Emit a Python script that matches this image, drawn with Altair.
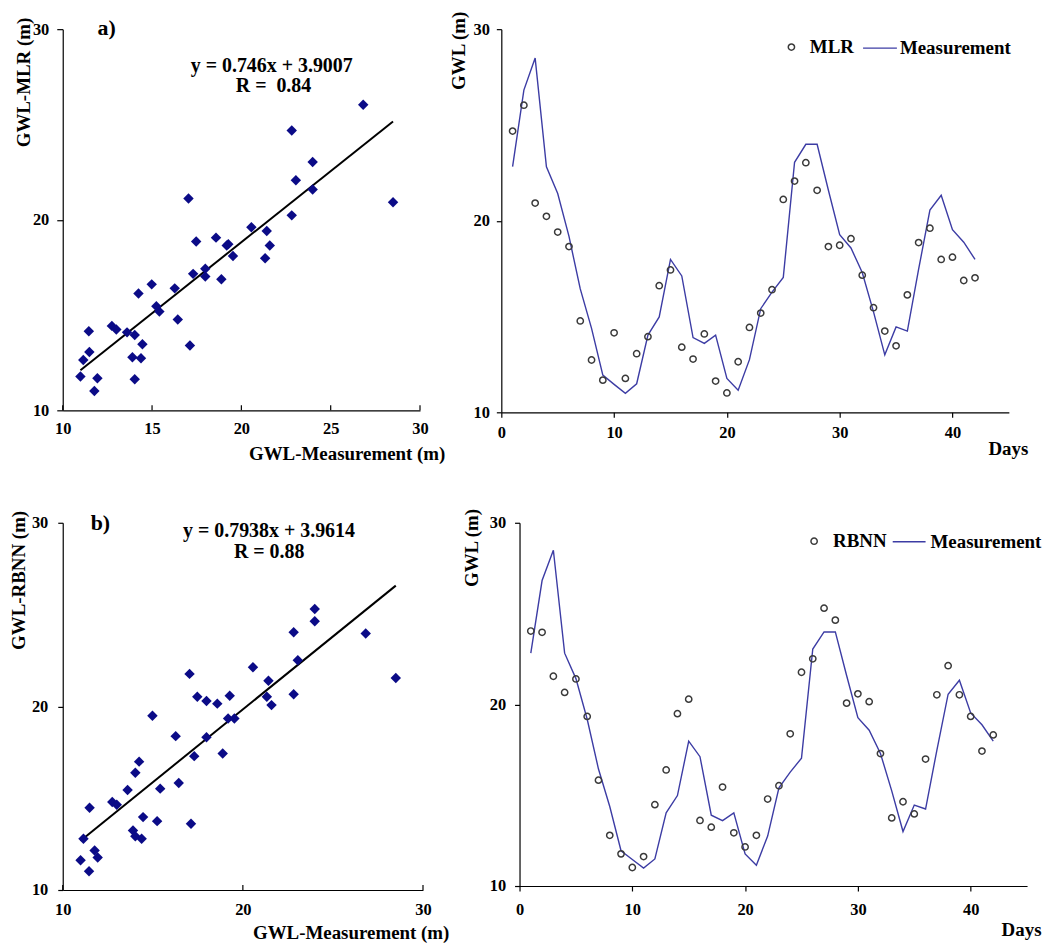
import altair as alt
import pandas as pd

# ---------------- data ----------------
days = list(range(1, 43))
measurement = [22.82, 26.82, 28.49, 22.82, 21.42, 19.18, 16.44, 14.38, 11.94, 11.46,
               10.99, 11.49, 14.03, 14.98, 17.98, 17.12, 13.90, 13.60, 14.03, 11.77,
               11.15, 12.75, 15.41, 16.27, 17.04, 23.05, 23.99, 23.99, 21.59, 19.27,
               18.58, 17.30, 15.24, 13.00, 14.46, 14.24, 17.47, 20.56, 21.33, 19.53,
               18.88, 17.98]
mlr = [24.68, 26.03, 20.92, 20.23, 19.41, 18.65, 14.77, 12.73, 11.68, 14.15,
       11.77, 13.06, 13.95, 16.61, 17.43, 13.40, 12.78, 14.09, 11.63, 11.01,
       12.64, 14.43, 15.18, 16.40, 21.11, 22.07, 23.03, 21.59, 18.65, 18.72,
       19.06, 17.16, 15.46, 14.24, 13.47, 16.13, 18.86, 19.61, 17.98, 18.10,
       16.88, 17.02]
rbnn = [24.04, 23.97, 21.55, 20.66, 21.40, 19.34, 15.83, 12.79, 11.77, 11.02,
        11.62, 14.48, 16.39, 19.49, 20.29, 13.61, 13.24, 15.45, 12.93, 12.15,
        12.79, 14.79, 15.52, 18.38, 21.77, 22.51, 25.30, 24.64, 20.07, 20.58,
        20.15, 17.29, 13.75, 14.64, 13.97, 16.99, 20.53, 22.13, 20.53, 19.34,
        17.43, 18.32]

mlr_fit = (0.746, 3.9007)
rbnn_fit = (0.7938, 3.9614)

gwl_ticks = [10, 20, 30]
meas_ticks_a = [10, 15, 20, 25, 30]
meas_ticks_b = [10, 20, 30]
day_ticks = [0, 10, 20, 30, 40]

FONT = "Liberation Serif"
NAVY = "#0b0b87"
LINE_COLOR = "#3c3ca4"
CIRCLE_COLOR = "#3a3a3a"

df = pd.DataFrame({"day": days, "meas": measurement, "mlr": mlr, "rbnn": rbnn})


def scatter(model, fit, xticks, w, h, ytitle, yt_x, yt_y, ylab_pad, ytick,
            xt_x, xt_y, xlab_pad, label, lab_pos, eq, r_text, eq_pos, r_pos):
    x_enc = alt.X("meas:Q", scale=alt.Scale(domain=[10, 30], nice=False, zero=False),
                  axis=alt.Axis(values=xticks, title="GWL-Measurement (m)",
                                titleX=xt_x, titleY=xt_y, titleAlign="right",
                                titleBaseline="alphabetic", tickSize=0,
                                labelPadding=xlab_pad))
    y_enc = alt.Y(f"{model}:Q", scale=alt.Scale(domain=[10, 30], nice=False, zero=False),
                  axis=alt.Axis(values=gwl_ticks, title=ytitle, titleX=yt_x, titleY=yt_y,
                                titleAngle=270, titleAlign="right",
                                titleBaseline="alphabetic", tickSize=ytick,
                                labelPadding=ylab_pad))
    pts = alt.Chart(df).mark_point(shape="diamond", filled=True, size=110,
                                   color=NAVY, opacity=1).encode(x=x_enc, y=y_enc)
    slope, icpt = fit
    lo, hi = min(measurement), max(measurement)
    fit_df = pd.DataFrame({"meas": [lo, hi], model: [slope * lo + icpt, slope * hi + icpt]})
    fit_line = alt.Chart(fit_df).mark_line(color="black", strokeWidth=2).encode(x=x_enc, y=y_enc)
    tick_df = pd.DataFrame({"meas": xticks})
    inner_ticks = alt.Chart(tick_df).mark_rule(color="black", strokeWidth=1.2).encode(
        x=x_enc, y=alt.value(h), y2=alt.value(h - 5))
    lab_df = pd.DataFrame({"meas": [lab_pos[0]], model: [lab_pos[1]], "t": [label]})
    lab = alt.Chart(lab_df).mark_text(align="left", baseline="alphabetic", font=FONT,
                                      fontWeight="bold", fontSize=22, color="black").encode(
        x=x_enc, y=y_enc, text="t:N")
    eq_df = pd.DataFrame({"meas": [eq_pos[0], r_pos[0]], model: [eq_pos[1], r_pos[1]],
                          "t": [eq, r_text]})
    eqs = alt.Chart(eq_df).mark_text(align="center", baseline="alphabetic", font=FONT,
                                     fontWeight="bold", fontSize=20, color="black").encode(
        x=x_enc, y=y_enc, text="t:N")
    return alt.layer(fit_line, pts, inner_ticks, lab, eqs).properties(width=w, height=h)


def series(model, name, w, h, yt_x, yt_y, ylab_pad, xt_x, xt_y, xlab_pad,
           shape_x, shape_y, shape_off, line_x, line_y, line_off, line_len):
    x_enc = alt.X("day:Q", scale=alt.Scale(domain=[0, 45], nice=False, zero=False),
                  axis=alt.Axis(values=day_ticks, title="Days", titleX=xt_x, titleY=xt_y,
                                titleAlign="right", titleBaseline="alphabetic",
                                tickSize=5, labelPadding=xlab_pad))
    y_axis = alt.Axis(values=gwl_ticks, title="GWL (m)", titleX=yt_x, titleY=yt_y,
                      titleAngle=270, titleAlign="right", titleBaseline="alphabetic",
                      tickSize=5, labelPadding=ylab_pad)
    y_scale = alt.Scale(domain=[10, 30], nice=False, zero=False)
    base = alt.Chart(df)
    line = base.transform_calculate(series_m="'Measurement'").mark_line(
        strokeWidth=1.4).encode(
        x=x_enc,
        y=alt.Y("meas:Q", scale=y_scale, axis=y_axis),
        color=alt.Color("series_m:N",
                        scale=alt.Scale(domain=["Measurement"], range=[LINE_COLOR]),
                        legend=alt.Legend(title=None, orient="none", legendX=line_x,
                                          legendY=line_y, symbolType="stroke",
                                          symbolSize=line_len * line_len,
                                          symbolStrokeWidth=1.4, labelOffset=line_off,
                                          padding=0, labelFont=FONT, labelFontSize=19,
                                          labelFontWeight="bold", labelColor="black")))
    pts = base.transform_calculate(series_p=f"'{name}'").mark_point(
        filled=False, size=40, strokeWidth=1.5, color=CIRCLE_COLOR, opacity=1).encode(
        x=x_enc,
        y=alt.Y(f"{model}:Q", scale=y_scale, axis=y_axis),
        shape=alt.Shape("series_p:N",
                        scale=alt.Scale(domain=[name], range=["circle"]),
                        legend=alt.Legend(title=None, orient="none", legendX=shape_x,
                                          legendY=shape_y, symbolSize=40,
                                          symbolStrokeColor=CIRCLE_COLOR,
                                          symbolFillColor="transparent",
                                          symbolStrokeWidth=1.5, labelOffset=shape_off,
                                          padding=0, labelFont=FONT, labelFontSize=19,
                                          labelFontWeight="bold", labelColor="black")))
    return alt.layer(line, pts).properties(width=w, height=h).resolve_legend(
        color="independent", shape="independent")


A = scatter("mlr", mlr_fit, meas_ticks_a, 359, 383, "GWL-MLR (m)", -33, -12, 8, 6,
            384, 49.3, 10, "a)", (11.95, 29.67), "y = 0.746x + 3.9007", "R =\u00a0 0.84",
            (21.7, 27.75), (21.8, 26.70))
B = series("mlr", "MLR", 510, 385, -37, -18, 7, 529, 42.6, 7,
           282, 8.5, 9, 362.5, 1, 2, 34)
C = scatter("rbnn", rbnn_fit, meas_ticks_b, 362, 369, "GWL-RBNN (m)", -38, -12.5, 10, 5,
            388, 49, 12, "b)", (11.55, 29.6), "y = 0.7938x + 3.9614", "R = 0.88",
            (21.45, 29.24), (21.46, 28.06))
D = series("rbnn", "RBNN", 510, 365, -42, -14.5, 9, 524, 50, 11,
           286.5, 9, 9.5, 374, 1.5, 4, 33)

row1 = alt.hconcat(A, B, spacing=81.7, bounds="flush").resolve_scale(
    color="independent", shape="independent").resolve_legend(
    color="independent", shape="independent")
row2 = alt.hconcat(C, D, spacing=97, bounds="flush").resolve_scale(
    color="independent", shape="independent").resolve_legend(
    color="independent", shape="independent")

chart = alt.vconcat(row1, row2, spacing=44).resolve_scale(
    color="independent", shape="independent").resolve_legend(
    color="independent", shape="independent").properties(
    padding={"left": 2, "top": 1, "right": 0, "bottom": 0},
    background="white",
).configure_axis(
    domainColor="black", domainWidth=1.2, tickColor="black", tickWidth=1.2,
    labelFont=FONT, labelFontSize=16.5, labelFontWeight="bold", labelColor="black",
    titleFont=FONT, titleFontSize=19, titleFontWeight="bold", titleColor="black",
    grid=False, labelFlush=False,
).configure_view(stroke=None)

chart.save("out.html", embed_options={"renderer": "svg", "actions": False})
